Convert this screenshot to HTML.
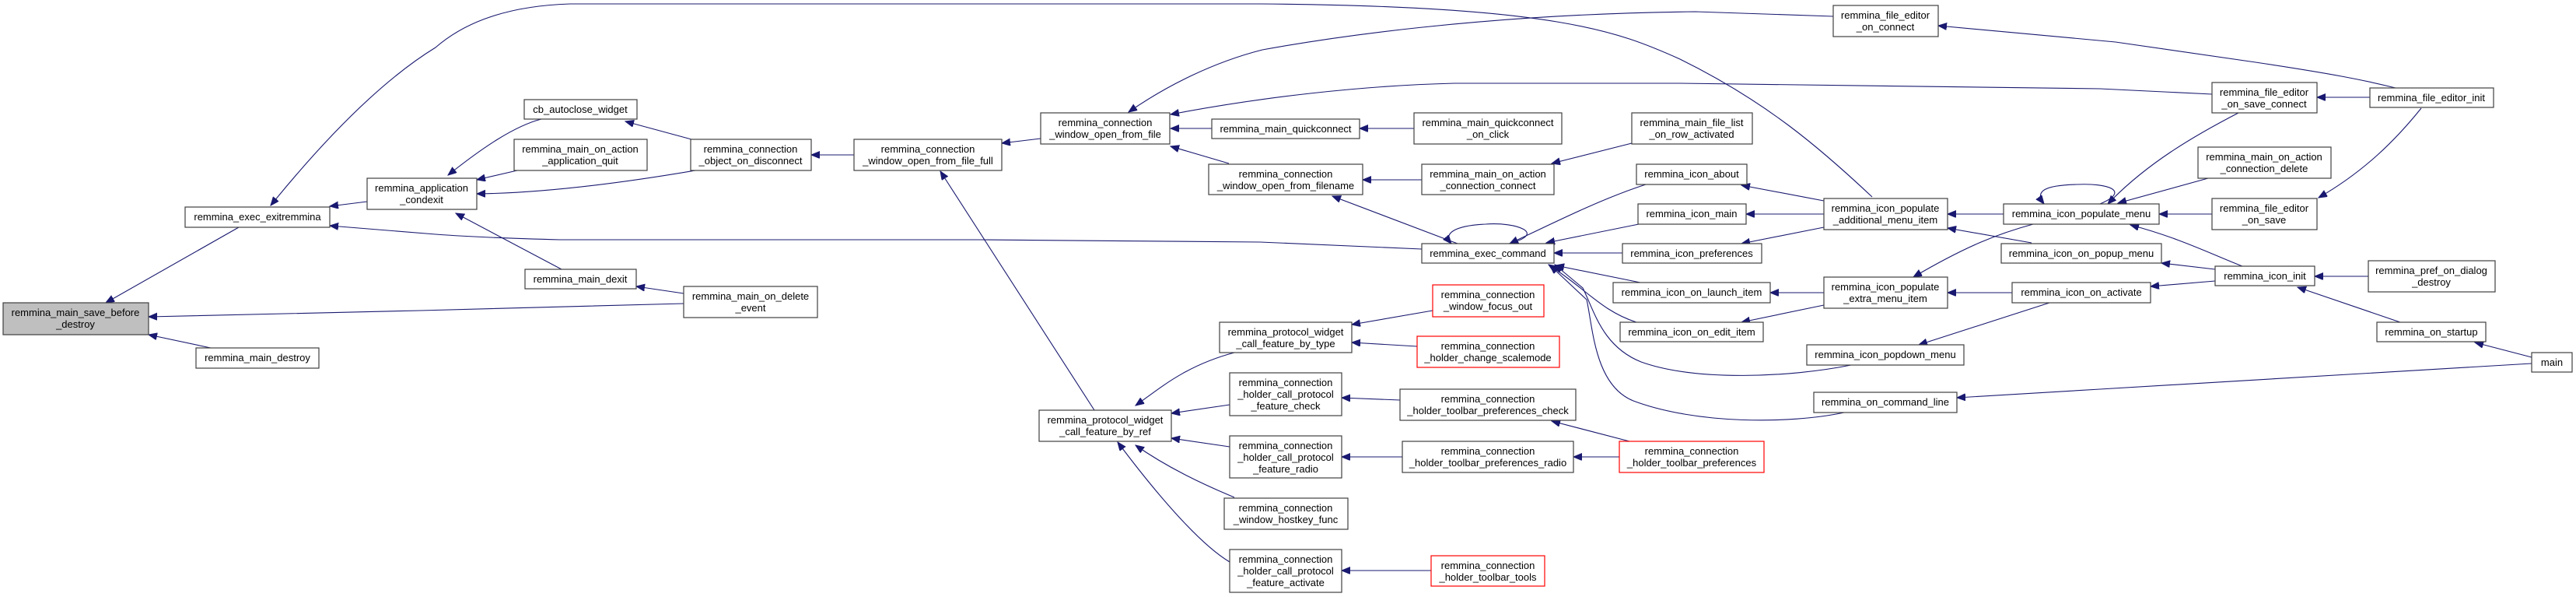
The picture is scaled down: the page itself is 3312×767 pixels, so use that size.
<!DOCTYPE html>
<html><head><meta charset="utf-8"><style>
html,body{margin:0;padding:0;background:#fff;}
svg{display:block;}
text{font-family:"Liberation Sans",Arial,sans-serif;font-size:13px;fill:#000;text-anchor:middle;}
.n{fill:#fff;stroke:#404040;stroke-width:1.2;}
.r{fill:#fff;stroke:#ff0000;stroke-width:1.2;}
.g{fill:#bfbfbf;stroke:#404040;stroke-width:1.2;}
.e{fill:none;stroke:#191970;stroke-width:1.1;marker-end:url(#a);}
</style></head><body>
<svg width="3312" height="767" viewBox="0 0 3312 767" xmlns="http://www.w3.org/2000/svg">
<defs><marker id="a" markerUnits="userSpaceOnUse" markerWidth="12" markerHeight="10" refX="11" refY="4.5" orient="auto"><path d="M0,0 L11,4.5 L0,9 z" fill="#191970" stroke="#191970"/></marker></defs>

<!-- edges -->
<path class="e" d="M307,292 L136,389"/>
<path class="e" d="M879,390 L540,399 L191,407"/>
<path class="e" d="M271,447 L191,430"/>
<path class="e" d="M472,259 L424,265"/>
<path class="e" d="M1828,320 L1620,311 L1260,308 L720,308 C640,306 600,304 560,301 L424,290"/>
<path class="e" d="M2407,253 C2340,190 2270,130 2160,76 C2080,40 2000,8 1620,5 L733,5 C640,8 590,35 560,61 C480,110 400,200 348,264"/>
<path class="e" d="M2357,21 L2180,15 C1900,18 1700,50 1623,64 C1560,80 1500,110 1451,144"/>
<path class="e" d="M2844,121 L2700,114 L2160,107 L1870,107 C1750,110 1620,125 1505,147"/>
<path class="e" d="M3080,113 C3040,103 3000,95 2900,80 L2720,54 L2492,33"/>
<path class="e" d="M3047,125 L2979,125"/>
<path class="e" d="M3113,139 C3080,180 3040,220 2981,254"/>
<path class="e" d="M2878,145 C2820,175 2760,210 2710,262"/>
<path class="e" d="M2839,229 L2723,261"/>
<path class="e" d="M2844,275 L2776,275"/>
<path class="e" d="M2883,342 C2840,325 2800,305 2739,289"/>
<path class="e" d="M2848,346 L2779,338"/>
<path class="e" d="M2848,361 L2765,368"/>
<path class="e" d="M3045,355 L2976,355"/>
<path class="e" d="M3086,414 L2954,369"/>
<path class="e" d="M3255,459 L3182,440"/>
<path class="e" d="M3255,467 L2700,500 L2516,511"/>
<path class="e" d="M2700,262 C2740,245 2710,235 2670,237 C2630,238 2615,245 2628,262"/>
<path class="e" d="M2576,275 L2504,275"/>
<path class="e" d="M2612,312 L2504,293"/>
<path class="e" d="M2614,288 C2570,300 2530,315 2460,356"/>
<path class="e" d="M2587,376 L2504,376"/>
<path class="e" d="M2635,389 L2467,443"/>
<path class="e" d="M2345,258 L2239,238"/>
<path class="e" d="M2345,275 L2245,275"/>
<path class="e" d="M2345,292 L2239,313"/>
<path class="e" d="M2345,376 L2276,376"/>
<path class="e" d="M2345,392 L2239,414"/>
<path class="e" d="M2116,237 C2060,255 2000,285 1941,313"/>
<path class="e" d="M2107,288 L1988,312"/>
<path class="e" d="M2086,325 L1998,325"/>
<path class="e" d="M2109,363 L2000,341"/>
<path class="e" d="M2104,414 C2060,400 2040,372 1991,340"/>
<path class="e" d="M2380,469 C2300,485 2180,490 2110,465 C2060,445 2050,400 2035,370 L1999,340"/>
<path class="e" d="M2371,530 C2300,545 2180,545 2100,515 C2050,495 2048,420 2040,385 L1993,341"/>
<path class="e" d="M1874,313 L1713,252"/>
<path class="e" d="M1940,313 C1990,300 1950,285 1910,288 C1870,290 1855,300 1866,313"/>
<path class="e" d="M2098,184 L1995,210"/>
<path class="e" d="M1818,165 L1748,165"/>
<path class="e" d="M1828,231 L1752,231"/>
<path class="e" d="M1558,165 L1505,165"/>
<path class="e" d="M1580,210 L1505,188"/>
<path class="e" d="M1338,178 L1288,184"/>
<path class="e" d="M1098,199 L1043,199"/>
<path class="e" d="M889,179 L804,156"/>
<path class="e" d="M894,219 C800,235 700,248 613,249"/>
<path class="e" d="M696,153 C661,162 620,190 576,225"/>
<path class="e" d="M665,219 L613,231"/>
<path class="e" d="M722,346 L586,274"/>
<path class="e" d="M879,377 L818,368"/>
<path class="e" d="M1407,527 L1209,220"/>
<path class="e" d="M1587,453 C1523,470 1490,500 1460,521"/>
<path class="e" d="M1842,399 L1738,417"/>
<path class="e" d="M1822,445 L1738,440"/>
<path class="e" d="M1581,520 L1506,531"/>
<path class="e" d="M1581,574 L1506,563"/>
<path class="e" d="M1587,639 C1544,621 1500,600 1460,572"/>
<path class="e" d="M1581,722 C1544,700 1491,640 1437,568"/>
<path class="e" d="M1800,514 L1725,511"/>
<path class="e" d="M1803,587 L1725,587"/>
<path class="e" d="M1840,733 L1725,733"/>
<path class="e" d="M2095,567 L1995,541"/>
<path class="e" d="M2082,587 L2023,587"/>

<!-- nodes -->
<rect class="g" x="4" y="389" width="187" height="41"/><text x="97" y="406">remmina_main_save_before</text><text x="97" y="421">_destroy</text>
<rect class="n" x="238" y="266" width="186" height="26"/><text x="331" y="283">remmina_exec_exitremmina</text>
<rect class="n" x="252" y="447" width="158" height="26"/><text x="331" y="464">remmina_main_destroy</text>
<rect class="n" x="472" y="229" width="141" height="40"/><text x="542" y="246">remmina_application</text><text x="542" y="261">_condexit</text>
<rect class="n" x="674" y="128" width="145" height="25"/><text x="746" y="145">cb_autoclose_widget</text>
<rect class="n" x="661" y="179" width="171" height="40"/><text x="746" y="196">remmina_main_on_action</text><text x="746" y="211">_application_quit</text>
<rect class="n" x="888" y="179" width="155" height="40"/><text x="965" y="196">remmina_connection</text><text x="965" y="211">_object_on_disconnect</text>
<rect class="n" x="675" y="346" width="143" height="25"/><text x="746" y="363">remmina_main_dexit</text>
<rect class="n" x="879" y="368" width="172" height="40"/><text x="965" y="385">remmina_main_on_delete</text><text x="965" y="400">_event</text>
<rect class="n" x="1098" y="179" width="190" height="40"/><text x="1193" y="196">remmina_connection</text><text x="1193" y="211">_window_open_from_file_full</text>
<rect class="n" x="1338" y="145" width="166" height="40"/><text x="1421" y="162">remmina_connection</text><text x="1421" y="177">_window_open_from_file</text>
<rect class="n" x="1336" y="527" width="170" height="40"/><text x="1421" y="544">remmina_protocol_widget</text><text x="1421" y="559">_call_feature_by_ref</text>
<rect class="n" x="1558" y="153" width="190" height="25"/><text x="1653" y="170">remmina_main_quickconnect</text>
<rect class="n" x="1554" y="211" width="198" height="39"/><text x="1653" y="228">remmina_connection</text><text x="1653" y="243">_window_open_from_filename</text>
<rect class="n" x="1818" y="145" width="190" height="40"/><text x="1913" y="162">remmina_main_quickconnect</text><text x="1913" y="177">_on_click</text>
<rect class="n" x="1828" y="211" width="170" height="39"/><text x="1913" y="228">remmina_main_on_action</text><text x="1913" y="243">_connection_connect</text>
<rect class="n" x="1828" y="313" width="170" height="25"/><text x="1913" y="330">remmina_exec_command</text>
<rect class="r" x="1842" y="366" width="143" height="41"/><text x="1913" y="383">remmina_connection</text><text x="1913" y="398">_window_focus_out</text>
<rect class="n" x="1568" y="414" width="170" height="39"/><text x="1653" y="431">remmina_protocol_widget</text><text x="1653" y="446">_call_feature_by_type</text>
<rect class="r" x="1822" y="432" width="183" height="40"/><text x="1913" y="449">remmina_connection</text><text x="1913" y="464">_holder_change_scalemode</text>
<rect class="n" x="1581" y="479" width="144" height="55"/><text x="1653" y="496">remmina_connection</text><text x="1653" y="511">_holder_call_protocol</text><text x="1653" y="526">_feature_check</text>
<rect class="n" x="1800" y="500" width="226" height="40"/><text x="1913" y="517">remmina_connection</text><text x="1913" y="532">_holder_toolbar_preferences_check</text>
<rect class="n" x="1581" y="560" width="144" height="54"/><text x="1653" y="577">remmina_connection</text><text x="1653" y="592">_holder_call_protocol</text><text x="1653" y="607">_feature_radio</text>
<rect class="n" x="1803" y="567" width="220" height="40"/><text x="1913" y="584">remmina_connection</text><text x="1913" y="599">_holder_toolbar_preferences_radio</text>
<rect class="n" x="1574" y="640" width="159" height="40"/><text x="1653" y="657">remmina_connection</text><text x="1653" y="672">_window_hostkey_func</text>
<rect class="n" x="1581" y="706" width="144" height="55"/><text x="1653" y="723">remmina_connection</text><text x="1653" y="738">_holder_call_protocol</text><text x="1653" y="753">_feature_activate</text>
<rect class="r" x="1840" y="714" width="146" height="39"/><text x="1913" y="731">remmina_connection</text><text x="1913" y="746">_holder_toolbar_tools</text>
<rect class="n" x="2098" y="145" width="155" height="40"/><text x="2175" y="162">remmina_main_file_list</text><text x="2175" y="177">_on_row_activated</text>
<rect class="n" x="2104" y="211" width="142" height="26"/><text x="2175" y="228">remmina_icon_about</text>
<rect class="n" x="2106" y="262" width="139" height="26"/><text x="2175" y="279">remmina_icon_main</text>
<rect class="n" x="2086" y="313" width="179" height="25"/><text x="2175" y="330">remmina_icon_preferences</text>
<rect class="n" x="2074" y="363" width="202" height="26"/><text x="2175" y="380">remmina_icon_on_launch_item</text>
<rect class="n" x="2083" y="414" width="184" height="25"/><text x="2175" y="431">remmina_icon_on_edit_item</text>
<rect class="r" x="2082" y="567" width="186" height="40"/><text x="2175" y="584">remmina_connection</text><text x="2175" y="599">_holder_toolbar_preferences</text>
<rect class="n" x="2357" y="7" width="135" height="40"/><text x="2424" y="24">remmina_file_editor</text><text x="2424" y="39">_on_connect</text>
<rect class="n" x="2345" y="255" width="159" height="40"/><text x="2424" y="272">remmina_icon_populate</text><text x="2424" y="287">_additional_menu_item</text>
<rect class="n" x="2576" y="262" width="200" height="26"/><text x="2676" y="279">remmina_icon_populate_menu</text>
<rect class="n" x="2573" y="313" width="206" height="25"/><text x="2676" y="330">remmina_icon_on_popup_menu</text>
<rect class="n" x="2345" y="356" width="159" height="40"/><text x="2424" y="373">remmina_icon_populate</text><text x="2424" y="388">_extra_menu_item</text>
<rect class="n" x="2587" y="363" width="178" height="26"/><text x="2676" y="380">remmina_icon_on_activate</text>
<rect class="n" x="2323" y="443" width="202" height="26"/><text x="2424" y="460">remmina_icon_popdown_menu</text>
<rect class="n" x="2332" y="504" width="184" height="26"/><text x="2424" y="521">remmina_on_command_line</text>
<rect class="n" x="2844" y="106" width="135" height="39"/><text x="2911" y="123">remmina_file_editor</text><text x="2911" y="138">_on_save_connect</text>
<rect class="n" x="3047" y="113" width="159" height="25"/><text x="3126" y="130">remmina_file_editor_init</text>
<rect class="n" x="2826" y="189" width="171" height="40"/><text x="2911" y="206">remmina_main_on_action</text><text x="2911" y="221">_connection_delete</text>
<rect class="n" x="2844" y="255" width="135" height="40"/><text x="2911" y="272">remmina_file_editor</text><text x="2911" y="287">_on_save</text>
<rect class="n" x="2848" y="342" width="128" height="25"/><text x="2912" y="359">remmina_icon_init</text>
<rect class="n" x="3045" y="335" width="163" height="40"/><text x="3126" y="352">remmina_pref_on_dialog</text><text x="3126" y="367">_destroy</text>
<rect class="n" x="3056" y="414" width="140" height="25"/><text x="3126" y="431">remmina_on_startup</text>
<rect class="n" x="3255" y="453" width="52" height="25"/><text x="3281" y="470">main</text>
</svg>
</body></html>
